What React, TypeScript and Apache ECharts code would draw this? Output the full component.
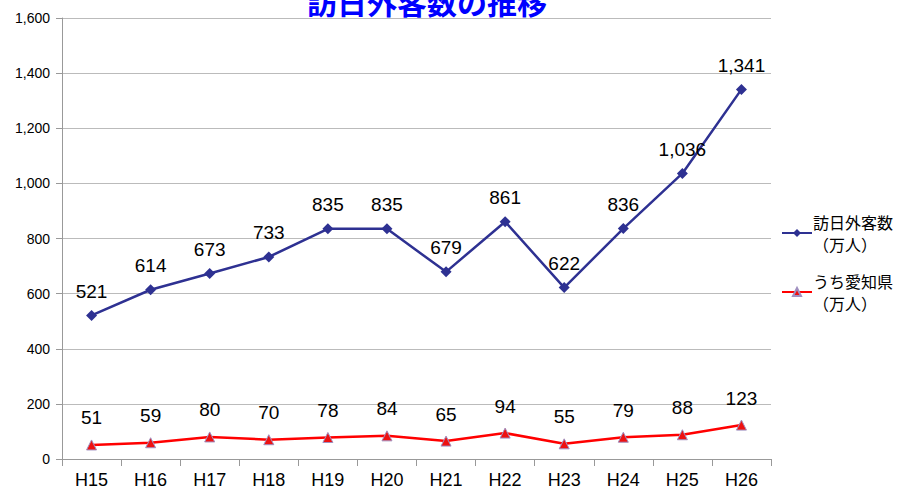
import React, { useEffect, useRef } from "react";
import * as echarts from "echarts";

const categories = ["H15", "H16", "H17", "H18", "H19", "H20", "H21", "H22", "H23", "H24", "H25", "H26"];
const visitors = [521, 614, 673, 733, 835, 835, 679, 861, 622, 836, 1036, 1341];
const aichi = [51, 59, 80, 70, 78, 84, 65, 94, 55, 79, 88, 123];
const seriesNames = ["訪日外客数\n（万人）", "うち愛知県\n（万人）"];

const fmt = (v: number) => v.toLocaleString("en-US");

export default function App() {
  const ref = useRef<HTMLDivElement>(null);
  useEffect(() => {
    if (!ref.current) return;
    const chart = echarts.init(ref.current, undefined, { renderer: "svg" });
    chart.setOption({
      animation: false,
      backgroundColor: "#ffffff",
      textStyle: { fontFamily: "Liberation Sans, Arial, Noto Sans CJK JP, sans-serif" },
      title: {
        text: "訪日外客数の推移",
        left: 422,
        top: -19,
        textAlign: "center",
        textStyle: { color: "#0000ff", fontSize: 30, fontWeight: "bold", fontFamily: "Noto Sans CJK JP, sans-serif" },
      },
      legend: {
        orient: "vertical",
        left: 776,
        top: 206,
        itemGap: 15,
        itemWidth: 30,
        itemHeight: 10,
        textStyle: { fontSize: 16, color: "#000", lineHeight: 22, fontFamily: "Noto Sans CJK JP, sans-serif", padding: [0, 0, 0, -4] },
        data: [seriesNames[0], seriesNames[1]],
      },
      grid: { left: 62, right: 131, top: 18, bottom: 36, containLabel: false },
      xAxis: {
        type: "category",
        data: categories,
        boundaryGap: true,
        axisLine: { lineStyle: { color: "#999", width: 1 } },
        axisTick: { show: true, length: 7, lineStyle: { color: "#999" } },
        axisLabel: { color: "#000", fontSize: 18, margin: 12 },
      },
      yAxis: {
        type: "value",
        min: 0,
        max: 1600,
        interval: 200,
        axisLine: { show: true, lineStyle: { color: "#999" } },
        axisTick: { show: true, length: 6, inside: false, lineStyle: { color: "#999" } },
        axisLabel: { color: "#000", fontSize: 14, formatter: (v: number) => fmt(v), margin: 12 },
        splitLine: { lineStyle: { color: "#bbb", width: 1 } },
      },
      series: [
        {
          name: seriesNames[0],
          type: "line",
          data: visitors,
          symbol: "diamond",
          symbolSize: 11,
          itemStyle: { color: "#2e3192" },
          lineStyle: { color: "#2e3192", width: 2.5 },
          label: {
            show: true,
            position: "top",
            distance: 9,
            color: "#000",
            fontSize: 19,
            formatter: (p: any) => fmt(p.value),
          },
        },
        {
          name: seriesNames[1],
          type: "line",
          data: aichi,
          symbol: "triangle",
          symbolSize: 10,
          itemStyle: { color: "#ee1111", borderColor: "#a090c0", borderWidth: 1 },
          lineStyle: { color: "#ff0000", width: 2.5 },
          label: {
            show: true,
            position: "top",
            distance: 12,
            color: "#000",
            fontSize: 19,
            formatter: (p: any) => fmt(p.value),
          },
        },
      ],
    });
    return () => chart.dispose();
  }, []);
  return (
    <div
      ref={ref}
      style={{ position: "fixed", left: 0, top: 0, width: 902, height: 495 }}
    />
  );
}
